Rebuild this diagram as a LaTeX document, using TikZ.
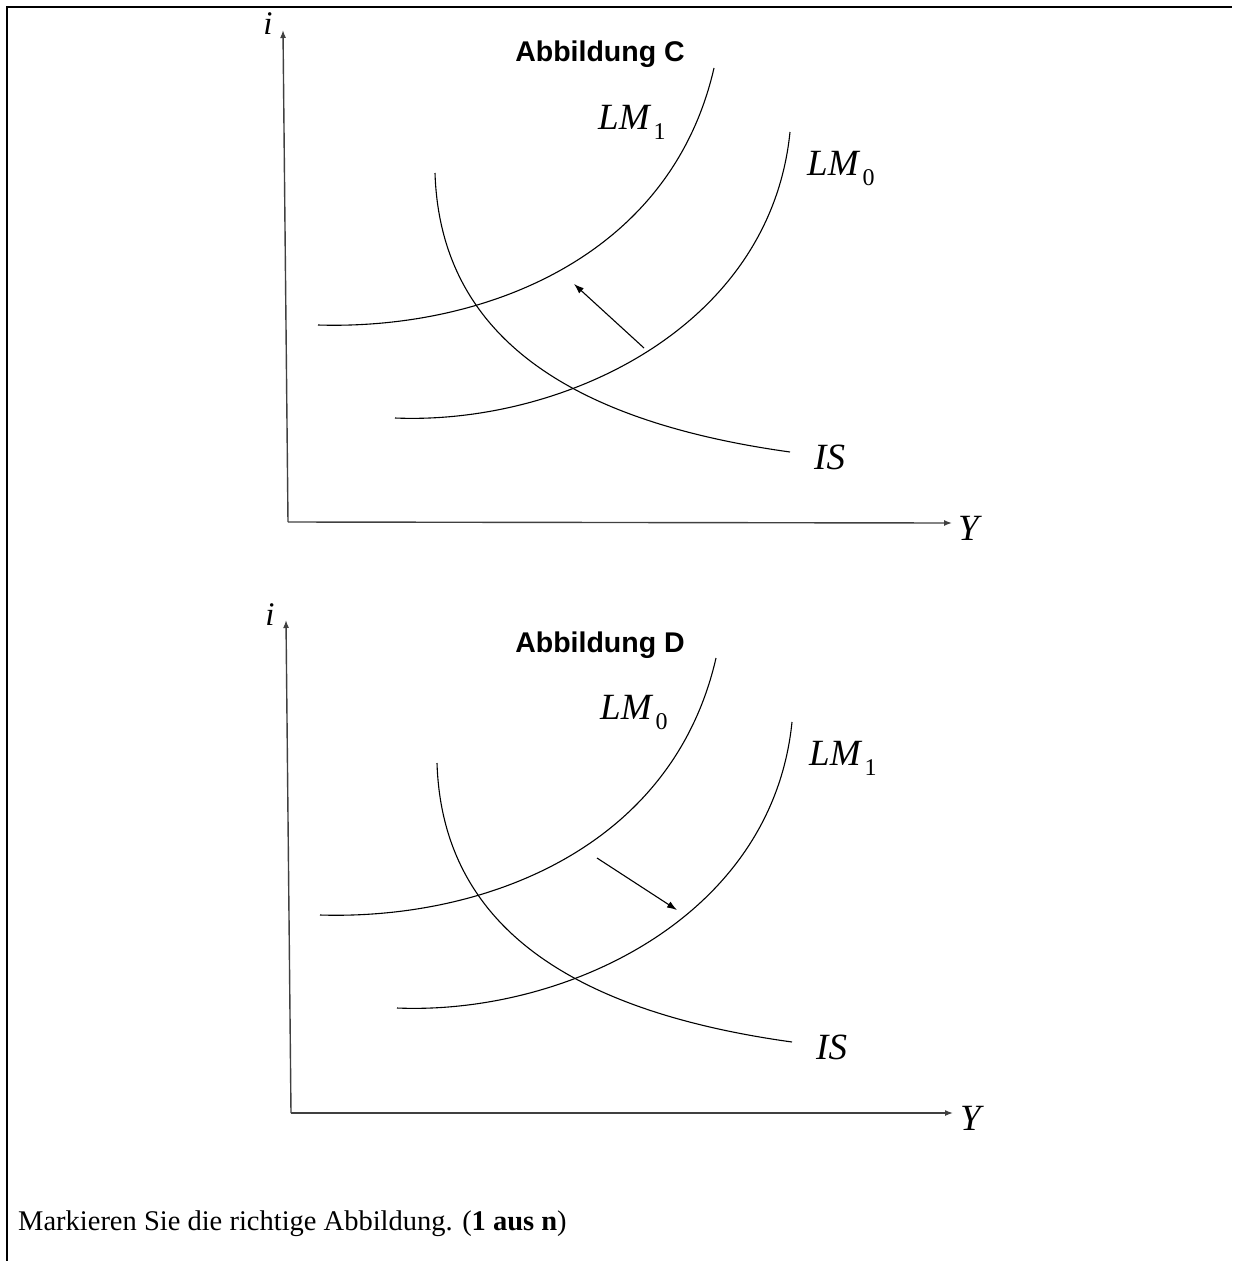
\documentclass[tikz,border=0pt]{standalone}
\usepackage{fontspec}
\setmainfont{Liberation Serif}
\newfontfamily\arialfont{Liberation Sans}
\usetikzlibrary{arrows.meta}
\tikzset{
  axis/.style={line width=1.4pt, draw=black!75, -{Latex[length=8pt,width=6pt]}},
  curve/.style={line width=1.1pt},
  shiftarrow/.style={line width=1.1pt, -{Latex[length=10pt,width=7pt]}},
  lbl/.style={inner sep=0pt, anchor=base west, font=\fontsize{37}{40}\selectfont\itshape},
  ilbl/.style={inner sep=0pt, anchor=base, font=\fontsize{33}{36}\selectfont\itshape},
  titlelbl/.style={inner sep=0pt, font=\arialfont\bfseries\fontsize{28.5}{30}\selectfont},
  frameline/.style={line width=2.6pt},
}
\newcommand{\LMlab}[1]{LM\kern4pt\raisebox{-10pt}{\upshape\fontsize{24}{24}\selectfont #1}}
\begin{document}
\begin{tikzpicture}[x=1pt,y=-1pt]
\useasboundingbox (0,0) rectangle (1232,1261);
% frame
\coordinate (f1) at (6,7);
\coordinate (f2) at (1232,7);
\coordinate (f3) at (7,6);
\coordinate (f4) at (7,1261);
\draw[frameline] (f1) -- (f2);
\draw[frameline] (f3) -- (f4);

% ---------- Panel C ----------
\coordinate (C-o) at (288,522);
\coordinate (C-yt) at (283,30);
\coordinate (C-xt) at (952,523);
\draw[axis] (C-o) -- (C-yt);
\draw[axis] (C-o) -- (C-xt);
\node[ilbl] (C-i) at (268,34) {i};
\node[lbl] (C-Y) at (958,540) {Y};
\node[titlelbl] (C-title) at (600,54) {Abbildung C};
\coordinate (C-u0) at (318,325);
\coordinate (C-u1) at (714,68);
\coordinate (C-l0) at (395,418);
\coordinate (C-l1) at (790,132);
\coordinate (C-s0) at (435,173);
\coordinate (C-s1) at (790,452);
\draw[curve] (C-u0) .. controls (480,330) and (670,260) .. (C-u1);
\draw[curve] (C-l0) .. controls (560,425) and (770,330) .. (C-l1);
\draw[curve] (C-s0) .. controls (440,330) and (560,420) .. (C-s1);
\node[lbl] (C-lmu) at (598,129) {\LMlab{1}};
\node[lbl] (C-lml) at (807,175) {\LMlab{0}};
\node[lbl] (C-is) at (814,469) {IS};
\coordinate (C-a1) at (644,348);
\coordinate (C-a2) at (574,284);
\draw[shiftarrow] (C-a1) -- (C-a2);

% ---------- Panel D ----------
\begin{scope}[shift={(2,590)}]
\coordinate (D-o) at (289,523);
\coordinate (D-yt) at (284,30);
\coordinate (D-xt) at (951,523);
\draw[axis] (D-o) -- (D-yt);
\draw[axis] (D-o) -- (D-xt);
\node[ilbl] (D-i) at (268,35) {i};
\node[lbl] (D-Y) at (958,540) {Y};
\node[titlelbl] (D-title) at (598,55) {Abbildung D};
\coordinate (D-u0) at (318,325);
\coordinate (D-u1) at (714,68);
\coordinate (D-l0) at (395,418);
\coordinate (D-l1) at (790,132);
\coordinate (D-s0) at (435,173);
\coordinate (D-s1) at (790,452);
\draw[curve] (D-u0) .. controls (480,330) and (670,260) .. (D-u1);
\draw[curve] (D-l0) .. controls (560,425) and (770,330) .. (D-l1);
\draw[curve] (D-s0) .. controls (440,330) and (560,420) .. (D-s1);
\node[lbl] (D-lmu) at (598,129) {\LMlab{0}};
\node[lbl] (D-lml) at (807,175) {\LMlab{1}};
\node[lbl] (D-is) at (814,469) {IS};
\coordinate (D-a1) at (595,268);
\coordinate (D-a2) at (675,320);
\draw[shiftarrow] (D-a1) -- (D-a2);
\end{scope}

% question text
\node[inner sep=0pt, anchor=base west, font=\fontsize{28.5}{32}\selectfont] (q) at (18,1230) {Markieren Sie die richtige Abbildung. (\textbf{1 aus n})};
\end{tikzpicture}
\end{document}
